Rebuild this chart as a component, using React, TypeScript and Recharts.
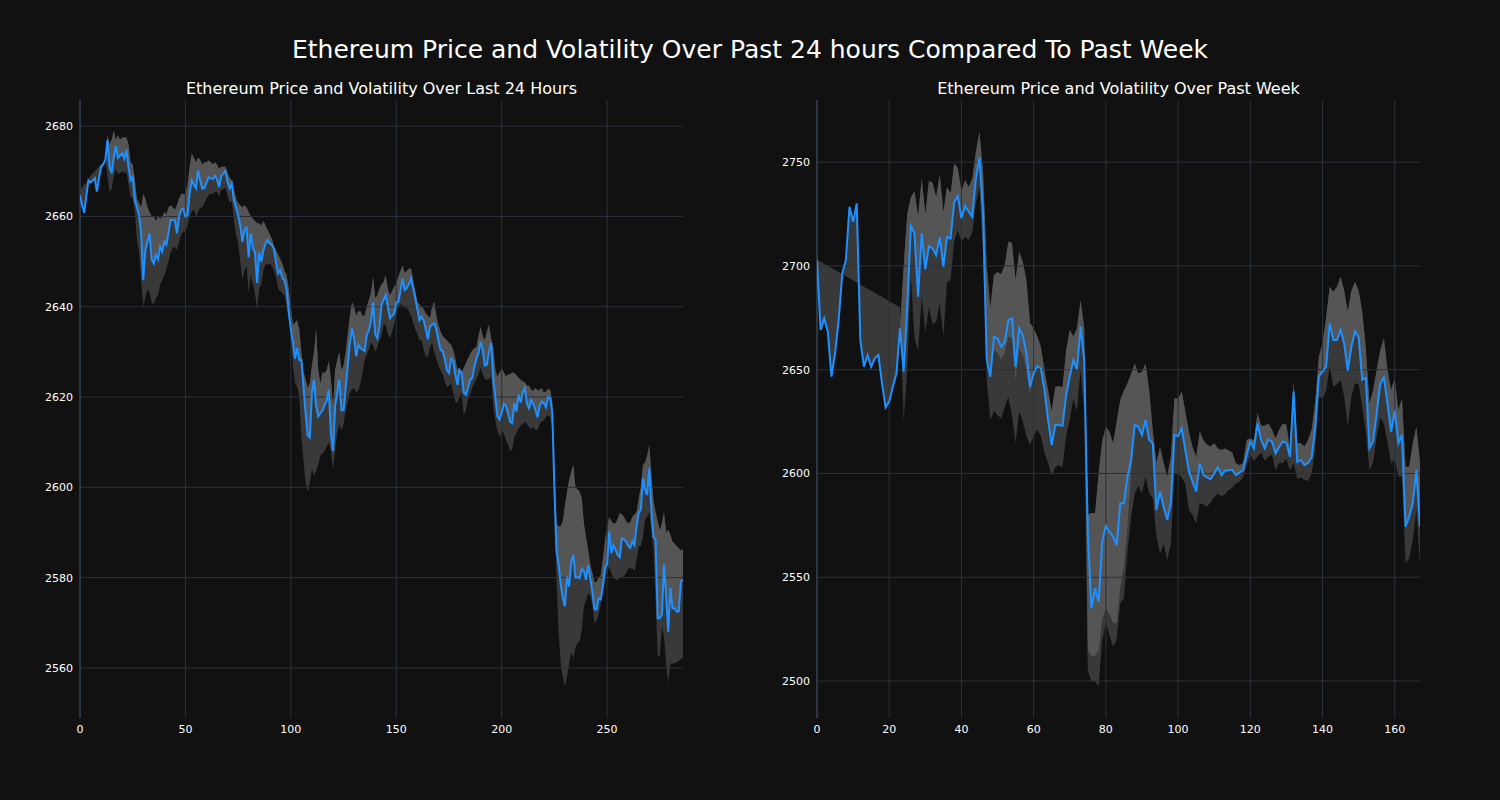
import React from 'react';
import { ComposedChart, Area, Line, XAxis, YAxis, ReferenceLine } from 'recharts';

// ---------- Last 24 hours (5-minute steps) ----------
const dayPrice = [
  2664.7, 2662.5, 2660.8, 2664.5, 2668, 2667.5, 2668, 2668.5, 2665.5, 2668.5,
  2671, 2671.5, 2672.5, 2676.9, 2671, 2669.6, 2673, 2675.6, 2673, 2673.5,
  2674, 2672.8, 2674.8, 2671, 2668, 2668.7, 2663.6, 2662, 2660.3, 2656.3,
  2645.9, 2652.5, 2654.5, 2656.2, 2650.5, 2649.6, 2651.5, 2650.5, 2653.3, 2652.2,
  2654.4, 2653.7, 2656.5, 2659.2, 2659.2, 2659.2, 2656.3, 2660, 2661.5, 2661.7,
  2660, 2660.3, 2665.1, 2668, 2667, 2666.2, 2670.2, 2668, 2666.2, 2666.3,
  2667.5, 2668.7, 2668.5, 2668.3, 2669, 2668.2, 2666.5, 2669, 2669.5, 2670.1,
  2667.6, 2666.2, 2667.3, 2663.6, 2662, 2660.3, 2658, 2654.4, 2657, 2657.5,
  2651, 2656.2, 2653, 2651.9, 2645.2, 2652, 2650, 2652.5, 2654, 2654.8,
  2654, 2653.7, 2652.7, 2649.8, 2647.4, 2648.1, 2646.3, 2645.9, 2643.7, 2639,
  2635, 2632, 2628.5, 2630.8, 2628.2, 2628.2, 2622.3, 2616.4, 2611.5, 2611,
  2621, 2623.8, 2618, 2615.7, 2616.4, 2617, 2618.2, 2619.2, 2621.6, 2612,
  2608, 2618, 2620.9, 2623.8, 2617.1, 2617.1, 2622, 2627, 2632, 2635.2,
  2633, 2629, 2631.6, 2630.8, 2630.5, 2630.2, 2633.7, 2634.8, 2636.7, 2641,
  2634, 2633, 2635.5, 2640.4, 2641.5, 2642.6, 2640, 2637.4, 2638, 2638.5,
  2640.9, 2641.1, 2643.5, 2646.3, 2643.7, 2644.2, 2645, 2646.3, 2644.1, 2642,
  2639.5, 2637, 2637.8, 2637, 2635, 2632.8, 2635.6, 2636, 2636.3, 2635,
  2632.5, 2630.4, 2630.2, 2628.5, 2626, 2625.3, 2628.5, 2628, 2625, 2622.7,
  2626, 2625.3, 2621, 2620.5, 2622, 2623.8, 2624.2, 2626.5, 2628.5, 2629.7,
  2632.2, 2630.5, 2627, 2627.2, 2630, 2632, 2624, 2620, 2615.7, 2615,
  2616.5, 2618.5, 2618, 2616.4, 2614.5, 2614.2, 2618.6, 2616.8, 2620.5, 2618.8,
  2621, 2622, 2618.5, 2617.5, 2619.3, 2618.5, 2617.2, 2615.5, 2618, 2619,
  2618.7, 2617.7, 2620, 2619.7, 2616.5, 2600, 2586.1, 2583, 2578.5, 2575.5,
  2573.6, 2580.2, 2578, 2583.5, 2585, 2580, 2580.1, 2579.9, 2582, 2581.4,
  2579.5, 2582.8, 2579.9, 2577, 2573, 2572.9, 2575.5, 2575.2, 2578, 2582.1,
  2583, 2590.2, 2585.4, 2587.2, 2586.2, 2585, 2584.5, 2588.7, 2588.5, 2588,
  2587, 2586.6, 2588, 2587.2, 2591.5, 2594.3, 2595, 2602, 2599.4, 2598.3,
  2604.2, 2595, 2589, 2588.4, 2571, 2571, 2571.8, 2583, 2576, 2568,
  2577.7, 2573.2, 2573.2, 2572.5, 2572.5, 2579.1, 2579.5,
];

const dayHigh = [
  2664.7, 2662.5, 2660.8, 2664.5, 2668, 2667.5, 2668, 2668.5, 2665.5, 2668.5,
  2671, 2671.5, 2672.5, 2678, 2676, 2677, 2679, 2677, 2678, 2677,
  2677.5, 2677.5, 2677.5, 2676, 2672, 2671.5, 2668, 2664, 2663, 2662,
  2665, 2664, 2662, 2661, 2660, 2660, 2659, 2660, 2659.5, 2660,
  2661, 2660.5, 2662, 2662.5, 2662, 2661.5, 2662.5, 2664, 2665, 2665,
  2665, 2667, 2671, 2674, 2673, 2672, 2673, 2672.5, 2671.5, 2672,
  2672, 2672.4, 2672, 2671.5, 2672, 2671.5, 2670.5, 2671, 2671, 2671,
  2669.5, 2668.5, 2668, 2666, 2664, 2663, 2662.5, 2662, 2662.5, 2662,
  2661, 2660, 2659.5, 2659, 2658.5, 2658.5, 2658, 2659, 2658, 2657,
  2656, 2655, 2653.5, 2652.5, 2651.5, 2650.5, 2649.5, 2648, 2647, 2644,
  2640, 2636, 2636.5, 2637, 2635, 2630, 2625.5, 2624, 2622, 2623,
  2627, 2630, 2635.2, 2626, 2623, 2625.5, 2625.3, 2626, 2628, 2624,
  2618, 2626, 2628.2, 2630, 2626, 2627, 2630, 2634, 2638, 2641,
  2640, 2638, 2639, 2639, 2638, 2638, 2640, 2641.5, 2643, 2646.6,
  2642, 2642.5, 2644, 2645, 2645.5, 2647, 2644, 2642.5, 2643.5, 2644.5,
  2645, 2646.7, 2648, 2649.2, 2647.5, 2648, 2648.5, 2648.5, 2646, 2643.5,
  2641, 2640.5, 2640, 2639.5, 2638.5, 2638, 2637.5, 2640, 2641.1, 2638,
  2636, 2634.5, 2633.5, 2633, 2632.6, 2632, 2631.5, 2630.5, 2628.5, 2626,
  2626.5, 2625.5, 2626.5, 2627.5, 2628.5, 2629.5, 2630.3, 2630.8, 2631.1, 2633.5,
  2635.6, 2633.5, 2632.5, 2634.5, 2636, 2633, 2631, 2626, 2624.5, 2625.5,
  2626.4, 2625.5, 2624.6, 2625, 2625, 2625.5, 2625.3, 2624.8, 2624.3, 2623.8,
  2623.5, 2623.2, 2622.5, 2622.5, 2621.6, 2621.4, 2622, 2621.5, 2621.6, 2622,
  2621, 2621.2, 2621.8, 2621.6, 2619, 2604, 2592, 2591.3, 2591.5, 2592.5,
  2596, 2599, 2601.6, 2603.5, 2605, 2600, 2599.5, 2599, 2597.5, 2592,
  2589, 2586, 2583, 2581, 2579, 2579, 2580, 2580.5, 2584, 2588.3,
  2591, 2593.5, 2592.5, 2592, 2592, 2593, 2594.3, 2594, 2593.5, 2592.5,
  2592, 2592.3, 2593.5, 2594, 2594.6, 2597.5, 2600, 2605, 2605.5, 2607,
  2609.4, 2603, 2597, 2594.5, 2592.5, 2590.5, 2592, 2594.6, 2590, 2590.6,
  2589.5, 2588, 2587.5, 2587, 2586.5, 2586, 2586.2,
];

const dayLow = [
  2666, 2666.5, 2667, 2667.5, 2668.3, 2669, 2669.5, 2670, 2670.5, 2671,
  2671.5, 2672, 2673, 2669, 2665.5, 2666, 2669, 2670.5, 2669.5, 2669.5,
  2670, 2669.5, 2670, 2667, 2664.5, 2664, 2661, 2655, 2652, 2646,
  2640, 2642, 2644, 2643, 2641, 2640.5, 2642, 2642.5, 2645, 2646,
  2647, 2648.5, 2650, 2652, 2653, 2653.3, 2652.5, 2654.5, 2656, 2656.7,
  2656.5, 2658, 2660, 2661, 2661.5, 2660, 2661, 2662, 2662, 2663,
  2664, 2664.7, 2665, 2665, 2665.5, 2665.5, 2664.5, 2666, 2666, 2666.5,
  2664.5, 2663, 2663.5, 2659, 2656, 2654, 2650, 2646, 2648, 2649,
  2643, 2647, 2645, 2643, 2639.3, 2644, 2645, 2648, 2649.5, 2649.3,
  2649.5, 2649, 2648, 2646.5, 2644, 2643.5, 2643, 2642.5, 2640, 2637,
  2634, 2627, 2623, 2622.3, 2620, 2611, 2606, 2601, 2599, 2601,
  2604, 2602.7, 2603.5, 2605, 2607, 2607.5, 2608, 2609, 2610, 2608,
  2604, 2608, 2612, 2614, 2612.7, 2614, 2617, 2619, 2621, 2621.6,
  2622, 2621, 2621.5, 2623, 2625.5, 2628.2, 2629.5, 2630.5, 2632, 2631.5,
  2630, 2631, 2632.5, 2633.5, 2636, 2636, 2634, 2633, 2634.5, 2636,
  2638, 2640, 2640.5, 2640.3, 2640, 2639.7, 2639, 2638, 2636.5, 2635,
  2634, 2632.6, 2632.6, 2630.5, 2629, 2628.9, 2631, 2632, 2630, 2628.5,
  2627, 2626, 2625, 2623.5, 2622.3, 2622.5, 2623, 2621, 2619, 2618.6,
  2620, 2621, 2616, 2617, 2619.5, 2620.5, 2622, 2623, 2624, 2625,
  2626.5, 2625, 2624, 2623.8, 2624, 2624.5, 2618, 2614.9, 2612.5, 2611.2,
  2612.5, 2612, 2610.5, 2609.5, 2607.9, 2608.5, 2611, 2612, 2613, 2613.7,
  2614, 2614.5, 2614, 2613.2, 2613, 2613.3, 2612.7, 2612.7, 2614, 2614.5,
  2614.8, 2615.5, 2616, 2615.5, 2613, 2592, 2579.5, 2568, 2561, 2558,
  2556, 2558, 2561, 2563.5, 2562, 2564.5, 2565.5, 2566, 2568.5, 2573.6,
  2575, 2576.5, 2576, 2574, 2570, 2570.5, 2572, 2574, 2577, 2579.5,
  2581, 2582.4, 2581, 2580, 2579.5, 2579.5, 2579.9, 2580, 2580.3, 2581,
  2582, 2582, 2582, 2581.5, 2584, 2586.9, 2587, 2589, 2592.8, 2593.5,
  2594.5, 2590, 2586, 2575, 2562.5, 2562.5, 2569, 2567, 2561, 2556.6,
  2561, 2561, 2561, 2561.3, 2561.5, 2562, 2562,
];

// ---------- Past week (hourly steps) ----------
const weekPrice = [
  2702.8, 2669.1, 2674.7, 2668.3, 2646.6, 2657.9, 2673.9, 2696.4, 2702.8, 2728.5,
  2721.2, 2730.1, 2664.3, 2651.4, 2657, 2651.4, 2655.4, 2657, 2643.4, 2631.8,
  2634.6, 2641.8, 2648.2, 2669.9, 2649, 2680.3, 2719.2, 2715.7, 2685.1, 2715.7,
  2698.3, 2709.5, 2708.4, 2705.2, 2713.7, 2699.6, 2713.9, 2713.2, 2730.9, 2733.6,
  2722.9, 2728.8, 2726.2, 2723.7, 2742.1, 2752.3, 2725, 2655, 2646.6, 2665.9,
  2665.1, 2661, 2663.4, 2673.9, 2674.7, 2651.4, 2669.9, 2666.7, 2657.9, 2641.8,
  2648.2, 2651.7, 2650.6, 2640.2, 2625.7, 2613.7, 2623.3, 2623.3, 2623, 2637.8,
  2646.6, 2654.6, 2650.1, 2670.7, 2654.6, 2572, 2535, 2544.6, 2538.2, 2567.1,
  2574.7, 2572, 2569.5, 2565.5, 2585.6, 2585.6, 2598.5, 2606.5, 2623.3, 2622.5,
  2618.5, 2625.7, 2616.1, 2614.5, 2582.4, 2591.3, 2584, 2577.6, 2585.6, 2618.5,
  2618, 2621.7, 2611.3, 2601, 2596.1, 2591.3, 2604.9, 2599.2, 2598.1, 2597.2,
  2600, 2602.9, 2599.2, 2601.3, 2601.6, 2601.8, 2599.2, 2600.4, 2601.6, 2608.9,
  2615.3, 2612.1, 2624.1, 2616.1, 2612.1, 2616.4, 2615.3, 2609.7, 2612.9, 2615.3,
  2614.9, 2608.1, 2639.4, 2605.6, 2606.5, 2604.1, 2605, 2607.8, 2622.5, 2646.9,
  2649, 2651.4, 2672.3, 2664.3, 2664.3, 2669.1, 2662.7, 2649.5, 2661.1, 2668.4,
  2665.7, 2645.2, 2646, 2612.1, 2615.3, 2628.9, 2643.4, 2646.3, 2633.8, 2620.1,
  2630.3, 2614.5, 2618.5, 2574.4, 2579.2, 2585.6, 2601.6, 2574.4,
];

// lower edge of the lighter shading (mostly the price itself)
const weekMid = [
  2702.8, 2669.1, 2674.7, 2668.3, 2646.6, 2657.9, 2673.9, 2696.4, 2702.8, 2728.5,
  2721.2, 2730.1, 2664.3, 2651.4, 2657, 2651.4, 2655.4, 2657, 2643.4, 2631.8,
  2634.6, 2641.8, 2648.2, 2669.9, 2649, 2680.3, 2719.2, 2715.7, 2685.1, 2715.7,
  2698.3, 2709.5, 2708.4, 2705.2, 2713.7, 2699.6, 2713.9, 2713.2, 2730.9, 2733.6,
  2722.9, 2728.8, 2726.2, 2723.7, 2742.1, 2752.3, 2725, 2655, 2646.6, 2660,
  2658, 2655, 2658, 2666, 2665, 2645, 2660, 2657, 2650, 2638,
  2648.2, 2651.7, 2650.6, 2640.2, 2625.7, 2613.7, 2623.3, 2623.3, 2623, 2637.8,
  2646.6, 2654.6, 2650.1, 2670.7, 2654.6, 2515, 2512, 2512, 2515, 2530,
  2535, 2532, 2528, 2528, 2545, 2555, 2575, 2600, 2623.3, 2622.5,
  2618.5, 2625.7, 2616.1, 2614.5, 2582.4, 2591.3, 2584, 2577.6, 2585.6, 2618.5,
  2618, 2621.7, 2611.3, 2601, 2596.1, 2591.3, 2604.9, 2599.2, 2598.1, 2597.2,
  2600, 2602.9, 2599.2, 2601.3, 2601.6, 2601.8, 2599.2, 2600.4, 2601.6, 2608.9,
  2615.3, 2612.1, 2624.1, 2616.1, 2612.1, 2616.4, 2615.3, 2609.7, 2612.9, 2615.3,
  2614.9, 2608.1, 2639.4, 2605.6, 2606.5, 2604.1, 2605, 2607.8, 2622.5, 2646.9,
  2649, 2651.4, 2672.3, 2664.3, 2664.3, 2669.1, 2662.7, 2649.5, 2661.1, 2668.4,
  2665.7, 2645.2, 2646, 2612.1, 2615.3, 2628.9, 2643.4, 2646.3, 2633.8, 2620.1,
  2630.3, 2614.5, 2618.5, 2574.4, 2579.2, 2585.6, 2601.6, 2574.4,
];

const weekHigh = [
  2702.8, 2669.1, 2674.7, 2668.3, 2646.6, 2657.9, 2673.9, 2696.4, 2702.8, 2728.5,
  2721.2, 2730.1, 2664.3, 2651.4, 2657, 2651.4, 2655.4, 2657, 2643.4, 2631.8,
  2634.6, 2641.8, 2648.2, 2669.9, 2700, 2725, 2733, 2736, 2724, 2742,
  2725, 2741, 2740, 2733, 2744, 2726, 2738, 2735, 2749.4, 2747,
  2735.7, 2741.3, 2738, 2742, 2755, 2764.6, 2745, 2700, 2680, 2695.6,
  2697, 2696, 2700.4, 2711.6, 2711, 2693.2, 2706.8, 2702, 2693, 2672.3,
  2670, 2666, 2661, 2650, 2640, 2630, 2641.8, 2642, 2641.5, 2659.4,
  2669.1, 2666, 2670, 2683.5, 2670, 2580, 2581, 2580.8, 2600, 2616,
  2622.5, 2620, 2614.5, 2625, 2635.4, 2640, 2643.4, 2648, 2653, 2648,
  2649, 2653, 2640, 2620.6, 2605, 2612.9, 2605, 2598.5, 2608.1, 2636.2,
  2636, 2639.4, 2630, 2620, 2612.9, 2608, 2620.2, 2616, 2614, 2613,
  2614.5, 2612, 2611.3, 2612, 2611, 2610, 2604.9, 2604, 2605, 2616.1,
  2617, 2616, 2629, 2623, 2623, 2624.1, 2621, 2616.9, 2621, 2624.1,
  2623.5, 2611.3, 2644.3, 2614.5, 2614.5, 2613, 2616.1, 2621, 2635, 2656.2,
  2662.7, 2675, 2690, 2687.5, 2690, 2694.8, 2688, 2677.9, 2688, 2692.4,
  2688, 2678, 2660.3, 2633.8, 2640, 2649.8, 2659.4, 2665.1, 2650, 2640.2,
  2646, 2630.5, 2636, 2603.2, 2603.2, 2614.5, 2622.5, 2605,
];

const weekLow = [
  2703, 2702, 2701, 2700, 2699, 2698, 2697, 2696, 2695, 2694,
  2693, 2692, 2691, 2690, 2689, 2688, 2687, 2686, 2685, 2684,
  2683, 2682, 2681, 2680, 2625, 2650, 2695, 2665, 2659, 2685,
  2668, 2680, 2672, 2673, 2682, 2666, 2692, 2693, 2712, 2717,
  2711.6, 2714, 2712.4, 2716, 2730, 2738, 2705, 2645, 2625.7, 2630,
  2628, 2626.5, 2632, 2637, 2628, 2614.5, 2630, 2625, 2618, 2613.7,
  2618, 2621, 2618, 2610, 2605, 2599, 2603, 2604, 2603, 2618,
  2626, 2636, 2630, 2650, 2630, 2505, 2500, 2500, 2497.4, 2519.8,
  2527.8, 2522, 2516.6, 2520, 2537.5, 2540, 2563, 2579, 2590.3, 2594,
  2590.3, 2598.5, 2590.3, 2588, 2569.5, 2561.5, 2566, 2558.3, 2566, 2600,
  2600, 2598, 2595, 2582.4, 2580, 2576, 2585.6, 2585, 2584, 2586,
  2588.5, 2590.3, 2588.8, 2590, 2592, 2593, 2595.2, 2596, 2598, 2604,
  2608.9, 2606, 2608, 2610, 2606, 2608, 2609, 2601.6, 2605, 2605,
  2607, 2601.6, 2605, 2597.3, 2598, 2597, 2596.4, 2600, 2612, 2637,
  2636.1, 2640, 2651.4, 2641.8, 2643, 2645, 2637, 2622.5, 2637, 2643.4,
  2643, 2632, 2620, 2601.6, 2605, 2617.8, 2627, 2624, 2615, 2604.9,
  2607, 2598.5, 2598.5, 2556.7, 2559, 2567.9, 2582.4, 2556,
];

const dayXTicks = [0, 50, 100, 150, 200, 250];
const dayYTicks = [2560, 2580, 2600, 2620, 2640, 2660, 2680];
const weekXTicks = [0, 20, 40, 60, 80, 100, 120, 140, 160];
const weekYTicks = [2500, 2550, 2600, 2650, 2700, 2750];

const mainTitle = 'Ethereum Price and Volatility Over Past 24 hours Compared To Past Week';
const dayTitle = 'Ethereum Price and Volatility Over Last 24 Hours';
const weekTitle = 'Ethereum Price and Volatility Over Past Week';

const BG = '#111111';
const GRID = '#2a323c';
const SPINE = '#34414f';
const LIGHT = '#555555';
const DARK = '#393939';
const LINE = '#1e90ff';
const FONT = "'DejaVu Sans', 'Liberation Sans', sans-serif";

type Row = { x: number; price: number; hi: number; lo: number; mid: number };

const build = (p: number[], h: number[], l: number[], m: number[]): Row[] =>
  p.map((v, i) => ({ x: i, price: v, hi: h[i], lo: l[i], mid: m[i] }));

const dayData = build(dayPrice, dayHigh, dayLow, dayPrice);
const weekData = build(weekPrice, weekHigh, weekLow, weekMid);

const CHART_W = 700;
const CHART_H = 800;
const M = { top: 100, right: 17, left: 20, bottom: 52 };

function Panel(props: {
  data: Row[];
  xDomain: [number, number];
  xTicks: number[];
  yDomain: [number, number];
  yTicks: number[];
  title: string;
  left: number;
}) {
  const { data, xDomain, xTicks, yDomain, yTicks, title, left } = props;
  const plotLeft = M.left + 60;
  const plotW = CHART_W - M.right - plotLeft;
  return (
    <div style={{ position: 'absolute', left, top: 0, width: CHART_W, height: CHART_H }}>
      <div
        style={{
          position: 'absolute',
          left: plotLeft,
          width: plotW,
          top: 79,
          textAlign: 'center',
          color: '#ffffff',
          fontFamily: FONT,
          fontSize: 16,
          lineHeight: '20px',
          whiteSpace: 'nowrap',
        }}
      >
        {title}
      </div>
      <ComposedChart width={CHART_W} height={CHART_H} data={data} margin={M}>
        <XAxis
          dataKey="x"
          type="number"
          domain={xDomain}
          ticks={xTicks}
          interval={0}
          allowDataOverflow
          axisLine={false}
          tickLine={false}
          tickSize={0}
          tickMargin={7}
          height={30}
          tick={{ fill: '#ffffff', fontSize: 11, fontFamily: FONT }}
        />
        <YAxis
          type="number"
          domain={yDomain}
          ticks={yTicks}
          interval={0}
          allowDataOverflow
          width={60}
          axisLine={false}
          tickLine={false}
          tickSize={0}
          tickMargin={7}
          tick={{ fill: '#ffffff', fontSize: 11, fontFamily: FONT }}
        />
        {yTicks.map((t) => (
          <ReferenceLine key={'h' + t} y={t} stroke={GRID} strokeWidth={1} ifOverflow="hidden" />
        ))}
        {xTicks.map((t) => (
          <ReferenceLine key={'v' + t} x={t} stroke={GRID} strokeWidth={1} ifOverflow="hidden" />
        ))}
        <ReferenceLine x={xDomain[0]} stroke={SPINE} strokeWidth={1.5} ifOverflow="visible" />
        <Area
          type="linear"
          dataKey={(d: Row) => [d.lo, d.hi]}
          stroke="none"
          fill={DARK}
          fillOpacity={1}
          isAnimationActive={false}
          activeDot={false}
        />
        <Area
          type="linear"
          dataKey={(d: Row) => [d.mid, d.hi]}
          stroke="none"
          fill={LIGHT}
          fillOpacity={1}
          isAnimationActive={false}
          activeDot={false}
        />
        <Line
          type="linear"
          dataKey="price"
          stroke={LINE}
          strokeWidth={2}
          dot={false}
          activeDot={false}
          isAnimationActive={false}
        />
      </ComposedChart>
    </div>
  );
}

export default function App() {
  return (
    <div
      style={{
        position: 'fixed',
        left: 0,
        top: 0,
        width: 1500,
        height: 800,
        background: BG,
        overflow: 'hidden',
      }}
    >
      <div
        style={{
          position: 'absolute',
          left: 0,
          width: 1500,
          top: 35,
          textAlign: 'center',
          color: '#ffffff',
          fontFamily: FONT,
          fontSize: 25,
          lineHeight: '30px',
          whiteSpace: 'nowrap',
        }}
      >
        {mainTitle}
      </div>
      <Panel
        data={dayData}
        xDomain={[0, 286]}
        xTicks={dayXTicks}
        yDomain={[2548.9, 2685.8]}
        yTicks={dayYTicks}
        title={dayTitle}
        left={0}
      />
      <Panel
        data={weekData}
        xDomain={[0, 167]}
        xTicks={weekXTicks}
        yDomain={[2482.2, 2779.9]}
        yTicks={weekYTicks}
        title={weekTitle}
        left={737}
      />
    </div>
  );
}
